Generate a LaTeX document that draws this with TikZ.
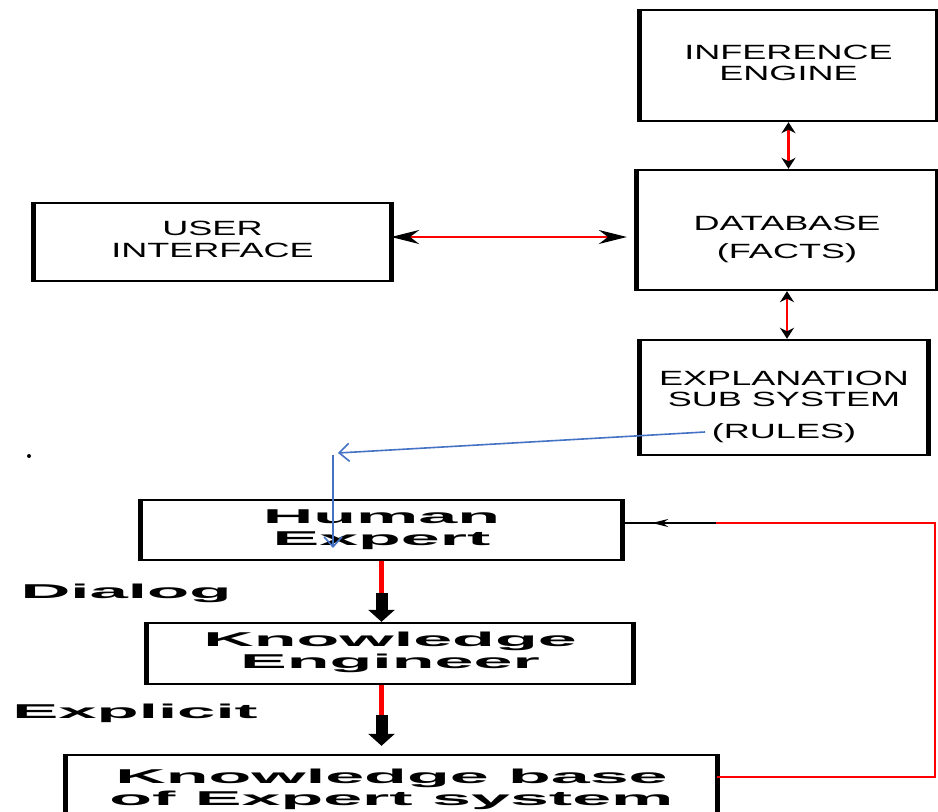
\documentclass[tikz,border=0pt]{standalone}
\usepackage{fontspec}
\setmainfont{Liberation Sans}
\usetikzlibrary{arrows.meta}
\definecolor{linkblue}{RGB}{68,114,196}
\newcommand{\widetext}[2]{\scalebox{#1}[1]{\begin{tabular}{@{}c@{}}#2\end{tabular}}}

\begin{document}
\begin{tikzpicture}[>=stealth,x=0.5pt,y=-0.5pt,
        box/.style={draw,line width=1.2pt,inner sep=0pt,font=\fontsize{10.3}{10.8}\selectfont},
        bigbox/.style={draw,line width=1.2pt,inner sep=0pt,font=\fontsize{10}{11}\selectfont\bfseries},
        biarrow/.style={draw=red,line width=1.3pt,{Stealth[black,length=#1,width=7pt]}-{Stealth[black,length=#1,width=7pt]}},
        biarrow/.default=5.5pt,
        redline/.style={draw=red,line width=2.5pt},
        fatarrow/.style={line width=6pt,-{Triangle[length=6pt,width=13pt]}},
        linkline/.style={draw=linkblue,line width=0.8pt,-{Straight Barb[length=5pt,width=9pt]}},
        feedline/.style={draw=red,line width=1.1pt}]
    \useasboundingbox (0,0) rectangle (938,812);
    % expert system blocks
    \node[box,minimum width=147.5pt,minimum height=55.5pt] (ie) at (788.5,65.5) {\widetext{1.75}{INFERENCE\\ENGINE}};
    \node[box,minimum width=149pt,minimum height=60pt] (db) at (787,230) {\widetext{1.75}{\rule{0pt}{17.5pt}DATABASE\\[3pt](FACTS)}};
    \node[box,minimum width=177.5pt,minimum height=39pt] (ui) at (212.5,242) {\widetext{1.75}{USER\\INTERFACE}};
    \node[box,minimum width=143pt,minimum height=57.5pt] (es) at (784,397.5) {\widetext{1.75}{\rule{0pt}{17.5pt}EXPLANATION\\SUB SYSTEM\\[5pt](RULES)}};
    % knowledge acquisition chain
    \node[bigbox,minimum width=239.5pt,minimum height=30pt] (he) at (381.5,530) {\widetext{3.5}{Human\\Expert}};
    \node[bigbox,minimum width=242pt,minimum height=30.5pt] (ke) at (390,653.5) {\widetext{3.5}{Knowledge\\Engineer}};
    \node[bigbox,minimum width=324.5pt,minimum height=35pt] (kb) at (391.5,790) {\widetext{3.5}{Knowledge base\\of Expert system}};
    \node[font=\fontsize{10}{11}\selectfont\bfseries] (dialog) at (126,593) {\scalebox{3.45}[1]{Dialog}};
    \node[font=\fontsize{10}{11}\selectfont\bfseries] (explicit) at (135,713) {\scalebox{3.45}[1]{Explicit}};
    \fill (29,456) circle (1pt);
    % heavy vertical edges
    \foreach \n in {ie,db,ui,es,he,ke,kb}
        \draw[line width=2.4pt] (\n.north west) -- (\n.south west) (\n.north east) -- (\n.south east);
    % two-way links
    \draw[biarrow] (ie.south) -- (ie.south |- db.north);
    \draw[biarrow] (db.south) -- (db.south |- es.north);
    \coordinate (uiR) at ([yshift=2.5pt]ui.east);
    \draw[biarrow=14pt,shorten >=5pt] (uiR) -- (uiR -| db.west);
    % explanation back to the expert
    \coordinate (rules) at (705,432);
    \coordinate (bend) at (338,453);
    \coordinate (drop) at (333,455);
    \coordinate (dropEnd) at (333,548);
    \draw[linkline] (rules) -- (bend);
    \draw[linkline] (drop) -- (dropEnd);
    % acquisition arrows
    \draw[redline] (he.south) -- ([yshift=-16pt]he.south) coordinate (d1);
    \draw[fatarrow] (d1) -- (d1 |- ke.north);
    \coordinate (d2) at (he.south |- ke.south);
    \draw[redline] (d2) -- ([yshift=-15pt]d2) coordinate (d3);
    \draw[fatarrow,shorten >=4pt] (d3) -- (d3 |- kb.north);
    % feedback loop
    \coordinate (kbR) at ([yshift=6.5pt]kb.east);
    \coordinate (heR) at ([yshift=3.5pt]he.east);
    \coordinate (heJ) at ([xshift=47pt]heR);
    \coordinate (loopR) at (935,0);
    \draw[feedline] (kbR) -- (kbR -| loopR) -- (heR -| loopR) -- (heJ);
    \draw[line width=1pt] (heJ) -- (heR);
    \draw[line width=1pt,-{Stealth[length=8pt,width=4pt]}] (heJ) -- ([xshift=15pt]heR);
\end{tikzpicture}
\end{document}
